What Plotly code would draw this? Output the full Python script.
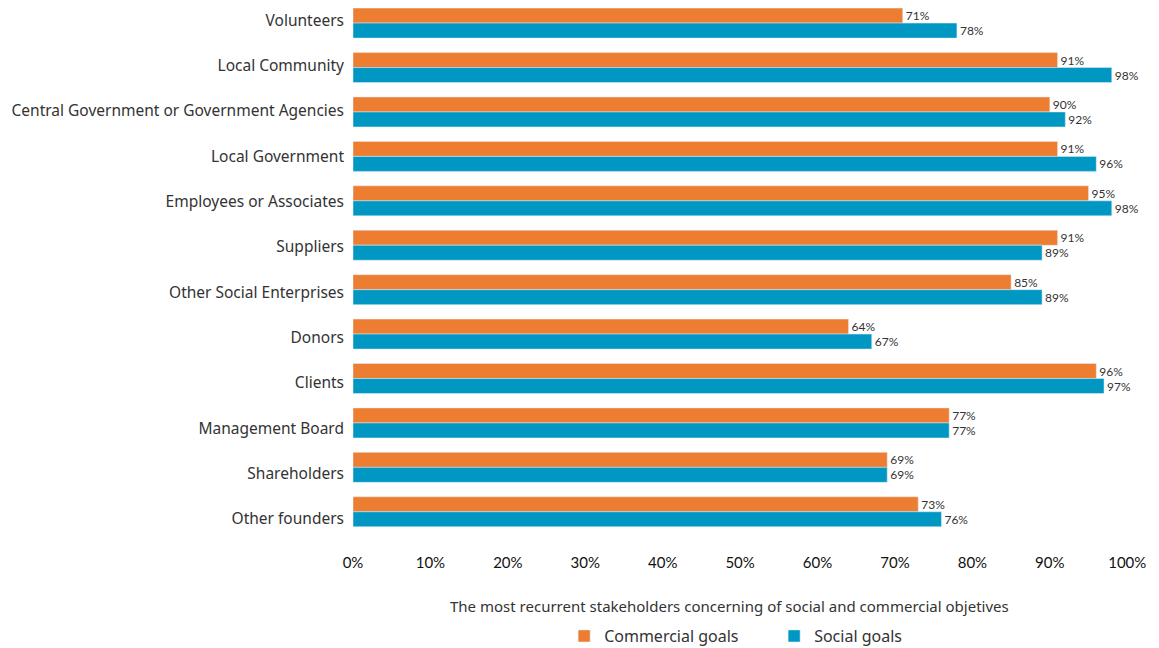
import plotly.graph_objects as go

categories = [
    "Volunteers",
    "Local Community",
    "Central Government or Government Agencies",
    "Local Government",
    "Employees or Associates",
    "Suppliers",
    "Other Social Enterprises",
    "Donors",
    "Clients",
    "Management Board",
    "Shareholders",
    "Other founders",
]
commercial = [71, 91, 90, 91, 95, 91, 85, 64, 96, 77, 69, 73]
social = [78, 98, 92, 96, 98, 89, 89, 67, 97, 77, 69, 76]
x_ticks = [0, 10, 20, 30, 40, 50, 60, 70, 80, 90, 100]

FONT = "Noto Sans"
ORANGE = "#ED7D31"
BLUE = "#0098C3"

fig = go.Figure()
fig.add_trace(go.Bar(
    y=categories, x=commercial, orientation="h", name="Commercial goals",
    marker_color=ORANGE, text=[f"{v}%" for v in commercial],
    textposition="outside", cliponaxis=False,
    textfont=dict(size=12, color="#333333", family="Lato"),
))
fig.add_trace(go.Bar(
    y=categories, x=social, orientation="h", name="Social goals",
    marker_color=BLUE, text=[f"{v}%" for v in social],
    textposition="outside", cliponaxis=False,
    textfont=dict(size=12, color="#333333", family="Lato"),
))
# invisible helper trace so the category labels sit on their own axis
fig.add_trace(go.Scatter(
    y=categories, x=[0] * len(categories), yaxis="y2", mode="markers",
    marker=dict(opacity=0), showlegend=False, hoverinfo="skip",
))

fig.update_layout(
    width=1159,
    height=648,
    barmode="group",
    bargap=0.325,
    bargroupgap=0,
    plot_bgcolor="white",
    paper_bgcolor="white",
    font=dict(family=FONT, size=15, color="#333333"),
    margin=dict(l=345, r=32, t=0, b=122, autoexpand=False),
    legend=dict(
        orientation="h", x=0.27, xanchor="left", y=-0.194, yanchor="middle",
        font=dict(size=16, color="#333333"),
        entrywidth=165, entrywidthmode="pixels",
        traceorder="normal",
    ),
    annotations=[dict(
        text="The most recurrent stakeholders concerning of social and commercial objetives",
        xref="paper", yref="paper", x=0.482, y=-0.137,
        xanchor="center", yanchor="middle", showarrow=False,
        font=dict(size=15, color="#333333"),
    )],
    yaxis=dict(
        range=[11.5, -0.34], showgrid=False, showline=False, automargin=False,
        showticklabels=False,
    ),
    yaxis2=dict(
        overlaying="y", side="left", range=[11.33, -0.27],
        showgrid=False, showline=False, zeroline=False, automargin=False,
        tickfont=dict(size=15.5, color="#333333"), ticklabelstandoff=8,
    ),
)
fig.update_xaxes(
    range=[0, 101], tickvals=x_ticks, ticktext=[f"{t}%" for t in x_ticks],
    showgrid=False, zeroline=False, showline=False, automargin=False,
    tickfont=dict(size=15, color="#111111", family="Lato"), ticklabelstandoff=18,
)

fig.write_html("out.html")
